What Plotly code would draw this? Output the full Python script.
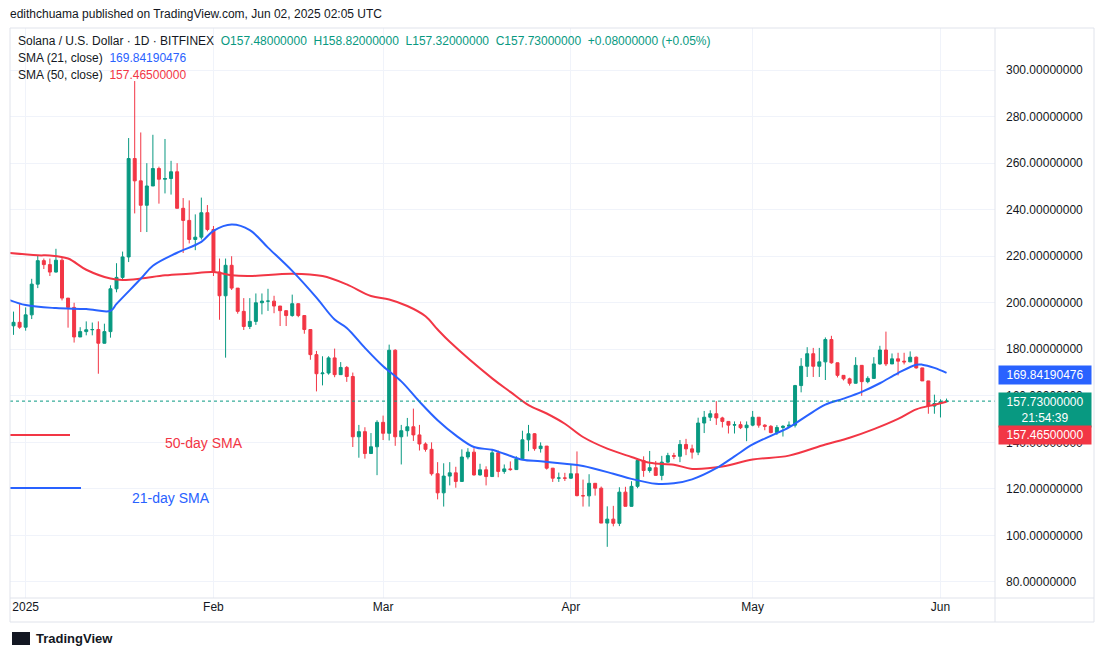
import pandas as pd
import plotly.graph_objects as go

start_date = "2024-12-29"
first_open = 195.8
closes = [190.1, 191.6, 189.5,
  194.8, 208.0, 218.1, 216.4, 213.2, 218.3, 202.0, 198.0, 185.3, 187.6, 188.4, 188.5, 182.6, 187.6, 206.0, 210.9, 219.7, 262.0, 252.4, 241.9, 250.2, 257.7, 253.1, 253.4, 256.3, 240.6, 235.4, 227.2, 228.2, 238.7, 231.5,
  213.2, 203.0, 216.1, 206.3, 196.3, 189.8, 192.0, 200.0, 200.7, 200.7, 198.6, 196.6, 194.5, 199.6, 194.5, 188.5, 177.7, 169.5, 169.8, 176.3, 169.1, 172.2, 168.3, 142.4, 144.6, 135.2, 138.1, 148.6,
  143.9, 179.6, 142.4, 145.0, 146.7, 143.2, 139.3, 137.0, 126.5, 118.3, 125.5, 126.9, 123.2, 133.7, 135.8, 126.0, 128.2, 125.3, 135.5, 127.5, 128.6, 128.3, 132.9, 141.1, 143.7, 137.3, 138.4, 128.9, 124.6, 124.7, 124.6,
  126.5, 117.1, 117.0, 122.4, 120.3, 105.3, 107.0, 105.2, 118.6, 112.5, 121.1, 132.2, 127.9, 129.1, 125.8, 131.5, 134.3, 134.0, 139.1, 137.2, 135.8, 148.3, 150.8, 152.3, 150.5, 149.0, 147.4, 147.6, 146.3, 147.4,
  150.8, 147.4, 146.9, 144.2, 146.4, 146.9, 147.4, 164.4, 172.7, 178.1, 172.7, 174.6, 184.2, 174.2, 168.8, 167.3, 165.4, 173.1, 166.1, 167.5, 173.7, 179.7, 173.7, 175.9, 174.9, 174.6, 176.6, 172.0, 166.4, 155.6, 156.7,
  157.48, 157.73]
highs = [196.5, 196.2, 199.4,
  198, 210.3, 220.3, 219, 219, 223.2, 219.5, 201, 200, 189.5, 192, 191.5, 192, 191, 207.5, 217, 222, 270.8, 295.3, 273.2, 260, 272.2, 258.5, 270.4, 261, 260, 245, 244, 238, 245.2, 242,
  233, 219, 219, 220, 204, 202, 202, 204, 204, 206, 203, 198, 196.5, 203.5, 198, 190, 188.5, 179.3, 177, 177, 180.3, 174.5, 172.8, 170, 147.5, 146.5, 144, 149.5,
  151.5, 182, 180, 147.5, 150.5, 154.5, 147.5, 140, 140, 131.5, 131, 131.5, 129.5, 137, 137.5, 137.5, 130.8, 129.7, 136.7, 136.5, 130.5, 131.8, 134, 145, 147.5, 144, 140, 138, 129, 127, 126.9,
  130.7, 136.1, 124, 126.3, 122.5, 121, 112.5, 112.7, 120.7, 120.9, 123.3, 133.2, 134, 136.3, 132, 134.2, 135.5, 135.5, 141, 141.5, 139, 150.6, 153.5, 153.8, 157.7, 151, 149, 149, 149, 149,
  153.5, 150.8, 147.8, 147.4, 147.4, 147.4, 149, 164.7, 176.2, 180.9, 180.6, 180.6, 185.1, 185.8, 170.7, 168.4, 167.8, 176.6, 169.2, 168.4, 176.6, 181.5, 187.6, 178.2, 178.5, 178.5, 179.1, 176.9, 171.7, 166.1, 160.5,
  158.5, 158.82]
lows = [189, 186.2, 188.8,
  188, 193, 206.3, 214.5, 211.5, 213, 201, 189.3, 182.9, 186.5, 186, 186, 169.5, 187.3, 185, 204.5, 210, 217.5, 238.4, 230.4, 230.4, 255.5, 242.6, 247, 246.5, 240.6, 221.4, 225.5, 222.6, 227.2, 230.7,
  211.5, 192.7, 176.4, 205.5, 195.3, 188.3, 188.7, 190.5, 195, 196.5, 195.5, 190, 190, 194, 193.8, 186.7, 175.5, 161.9, 164.5, 169.1, 168, 171.9, 166, 138, 133.4, 133, 138, 125.9,
  141, 140.8, 138.5, 130.5, 142.5, 140.6, 136.5, 136, 125.7, 115.5, 112.4, 121.5, 120.5, 129.5, 132.7, 125.7, 125.7, 121.5, 125.5, 125, 126.5, 127.8, 128.2, 140.6, 136.2, 136.4, 135.6, 128.3, 123, 123, 123.4,
  124.3, 116.8, 112.4, 112.4, 117.1, 105.3, 95.1, 103.9, 104, 112.5, 119, 120.3, 125.2, 127, 125.8, 123.7, 131.2, 132.8, 131.5, 134.5, 133, 134.5, 144, 149.2, 147.5, 146.4, 143.8, 143.8, 145.7, 140.5,
  146.9, 146.3, 145.2, 143.9, 143.2, 142.5, 146.4, 146.4, 161.5, 168.1, 168.1, 168.1, 166.8, 173.8, 167.9, 166.6, 164.4, 166.6, 160.0, 165.4, 168.8, 173.4, 172.8, 174.6, 168.8, 173.5, 174.6, 171.7, 166.4, 152.3, 152.3,
  150.7, 157.32]
opens = [first_open] + closes[:-1]
dates = pd.date_range(start_date, periods=len(closes), freq="D")

sma21_dates = ["2024-12-29", "2025-01-01", "2025-01-06", "2025-01-11", "2025-01-15", "2025-01-16", "2025-01-20", "2025-01-22", "2025-01-26", "2025-01-30", "2025-02-01", "2025-02-04", "2025-02-07", "2025-02-10", "2025-02-14", "2025-02-18", "2025-02-21", "2025-02-23", "2025-02-26", "2025-03-01", "2025-03-04", "2025-03-07", "2025-03-10", "2025-03-13", "2025-03-16", "2025-03-19", "2025-03-21", "2025-03-24", "2025-03-27", "2025-03-31", "2025-04-03", "2025-04-08", "2025-04-11", "2025-04-15", "2025-04-18", "2025-04-21", "2025-04-25", "2025-04-28", "2025-05-01", "2025-05-04", "2025-05-07", "2025-05-10", "2025-05-13", "2025-05-16", "2025-05-19", "2025-05-22", "2025-05-25", "2025-05-28", "2025-05-29", "2025-05-31", "2025-06-02"]
sma21_vals = [201.5, 199, 197.7, 197.3, 196.5, 199.5, 210.3, 215.9, 221.5, 226.2, 230.9, 233.6, 231.2, 223.7, 213.7, 202.2, 192.8, 189.2, 180.6, 172.7, 166.2, 157.5, 149.5, 143, 138, 136.8, 135.1, 132.5, 131.9, 130.8, 129.8, 126.5, 124.3, 122.2, 122.4, 124.1, 128.9, 134, 139.1, 142.8, 146.4, 151.5, 156.2, 158.8, 161.7, 165.4, 169.8, 173.4, 173.4, 172, 169.84]
sma50_dates = ["2024-12-29", "2025-01-03", "2025-01-05", "2025-01-08", "2025-01-11", "2025-01-15", "2025-01-17", "2025-01-20", "2025-01-24", "2025-01-28", "2025-02-01", "2025-02-04", "2025-02-07", "2025-02-14", "2025-02-19", "2025-02-23", "2025-02-27", "2025-03-02", "2025-03-05", "2025-03-08", "2025-03-10", "2025-03-12", "2025-03-19", "2025-03-22", "2025-03-25", "2025-03-28", "2025-03-31", "2025-04-03", "2025-04-07", "2025-04-11", "2025-04-14", "2025-04-18", "2025-04-21", "2025-04-26", "2025-05-01", "2025-05-07", "2025-05-13", "2025-05-17", "2025-05-21", "2025-05-25", "2025-05-28", "2025-05-31", "2025-06-02"]
sma50_vals = [221.5, 220.4, 220.3, 219, 214.2, 210.4, 209.8, 210.4, 211.8, 212.5, 213.2, 211.8, 211.5, 212.5, 211.5, 207.9, 202.9, 201.4, 198.6, 194.2, 188.5, 183.2, 167.5, 161.7, 156, 152.4, 148, 142.3, 137.3, 133.7, 131.2, 130.4, 128.6, 129.6, 132.6, 134.3, 139.1, 142, 145.7, 150.1, 154.2, 156.2, 157.465]

y_ticks = [80, 100, 120, 140, 160, 180, 200, 220, 240, 260, 280, 300]
x_tick_dates = ["2025-01-01", "2025-02-01", "2025-03-01", "2025-04-01", "2025-05-01", "2025-06-01"]
x_tick_text = ["2025", "Feb", "Mar", "Apr", "May", "Jun"]

GREEN, RED, BLUE, TXT = "#089981", "#f23645", "#2962ff", "#131722"
OFF = 8  # page body margin
W, H = 1104 - OFF, 657 - OFF
# plot area in page pixels
PL, PR, PT, PB = 10, 995, 28, 598
L, R, T, B = PL - OFF, PR - OFF, PT - OFF, PB - OFF

def px(x):
    return (x - PL) / (PR - PL)

def py(y):
    return (PB - y) / (PB - PT)

fig = go.Figure()
fig.add_trace(go.Candlestick(x=dates, open=opens, high=highs, low=lows, close=closes,
    increasing=dict(line=dict(color=GREEN, width=1), fillcolor=GREEN),
    decreasing=dict(line=dict(color=RED, width=1), fillcolor=RED),
    whiskerwidth=0, showlegend=False, hoverinfo="skip"))
fig.add_trace(go.Scatter(x=sma50_dates, y=sma50_vals, mode="lines", line=dict(color=RED, width=2, shape="spline"), showlegend=False))
fig.add_trace(go.Scatter(x=sma21_dates, y=sma21_vals, mode="lines", line=dict(color=BLUE, width=2, shape="spline"), showlegend=False))

font = "Liberation Sans, Arial, sans-serif"
anns = []
def txt(x, y, s, color=TXT, size=12, xanchor="left", **kw):
    anns.append(dict(x=px(x), y=py(y), xref="paper", yref="paper", text=s, showarrow=False,
                     xanchor=xanchor, yanchor="middle", font=dict(color=color, size=size, family=font), **kw))

txt(8, 14, "edithchuama published on TradingView.com, Jun 02, 2025 02:05 UTC", size=12)
txt(16, 41, f"Solana / U.S. Dollar · 1D · BITFINEX  <span style='color:{GREEN}'>O157.48000000  H158.82000000  L157.32000000  C157.73000000  +0.08000000 (+0.05%)</span>", size=12)
txt(16, 58, f"SMA (21, close)  <span style='color:{BLUE}'>169.84190476</span>", size=12)
txt(16, 75, f"SMA (50, close)  <span style='color:{RED}'>157.46500000</span>", size=12)
txt(163, 443, "50-day SMA", color=RED, size=14)
txt(130, 498, "21-day SMA", color=BLUE, size=14)
txt(34, 638, "<b>TradingView</b>", size=13)

def box(yc, s, color):
    anns.append(dict(x=px(998), y=py(yc), xref="paper", yref="paper", text=s, showarrow=False,
        xanchor="left", yanchor="middle", bgcolor=color, font=dict(color="white", size=12, family=font),
        borderpad=2, width=88, align="center"))
box(375, "169.84190476", BLUE)
box(410, "157.73000000<br>21:54:39", GREEN)
box(435, "157.46500000", RED)

shapes = [
    dict(type="line", xref="paper", yref="y", x0=0, x1=1, y0=closes[-1], y1=closes[-1], line=dict(color=GREEN, width=1, dash="dot")),
    dict(type="line", xref="paper", yref="paper", x0=px(10), x1=px(70), y0=py(435), y1=py(435), line=dict(color=RED, width=2), layer="above"),
    dict(type="line", xref="paper", yref="paper", x0=px(10), x1=px(81), y0=py(488), y1=py(488), line=dict(color=BLUE, width=2), layer="above"),
    dict(type="rect", xref="paper", yref="paper", x0=px(10), x1=px(1094), y0=py(622), y1=py(28), line=dict(color="#e0e3eb", width=1)),
    dict(type="line", xref="paper", yref="paper", x0=px(10), x1=px(1094), y0=py(598), y1=py(598), line=dict(color="#e0e3eb", width=1)),
    dict(type="line", xref="paper", yref="paper", x0=px(995), x1=px(995), y0=py(622), y1=py(28), line=dict(color="#e0e3eb", width=1)),
    dict(type="rect", xref="paper", yref="paper", x0=px(12), x1=px(30), y0=py(645), y1=py(632), fillcolor=TXT, line=dict(width=0)),
]
fig.update_layout(
    width=W, height=H, annotations=anns, shapes=shapes,
    margin=dict(l=L, r=W - R, t=T, b=H - B),
    paper_bgcolor="white", plot_bgcolor="white",
    font=dict(family=font, color=TXT, size=12),
    xaxis=dict(type="date", range=["2024-12-29 10:00", "2025-06-10"], rangeslider=dict(visible=False),
               tickvals=x_tick_dates, ticktext=x_tick_text, showgrid=True, gridcolor="#f0f3fa",
               ticks="", tickfont=dict(size=12), zeroline=False, showline=False),
    yaxis=dict(side="right", range=[73.1, 318.1], tickvals=y_ticks, ticktext=[f"{v:.8f}" for v in y_ticks],
               showgrid=True, gridcolor="#f0f3fa", ticks="", ticklabelstandoff=10, zeroline=False, tickfont=dict(size=12)),
)
fig.write_html("out.html")
